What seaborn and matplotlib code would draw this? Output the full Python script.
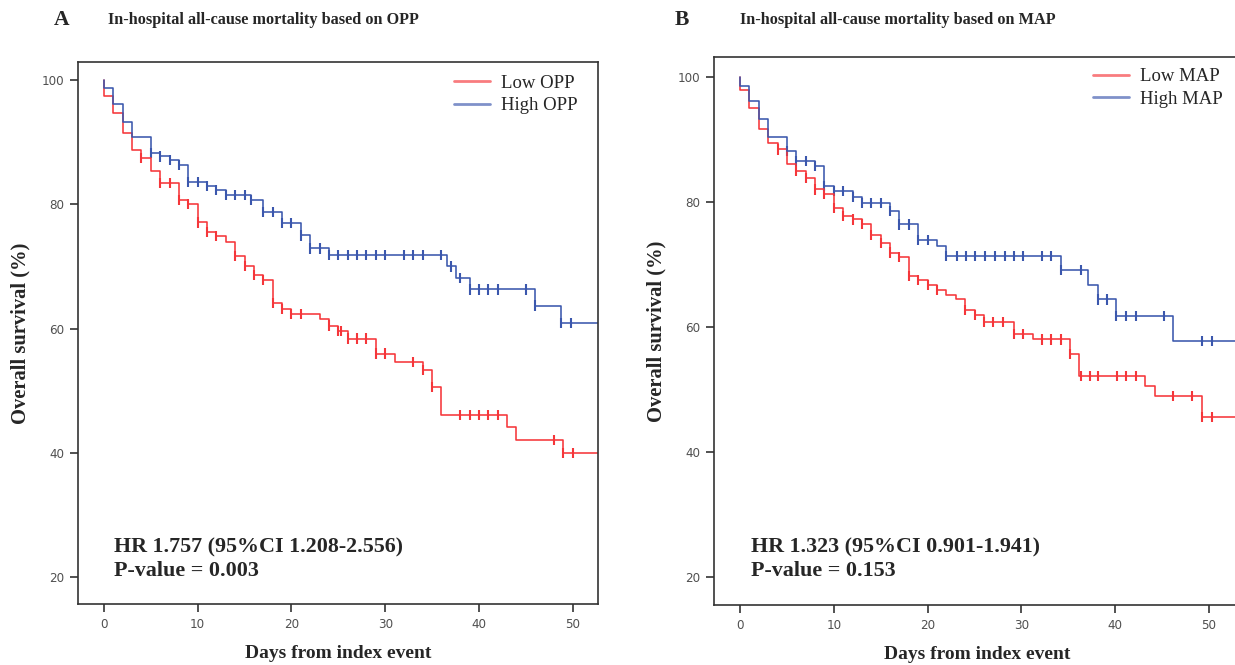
import numpy as np
import pandas as pd
import matplotlib
matplotlib.use("Agg")
import matplotlib.pyplot as plt
import seaborn as sns

# ---------------- data ----------------
# Panel A: OPP
a_titles = ["A", "In-hospital all-cause mortality based on OPP"]
a_labels = ["Low OPP", "High OPP"]
a_low_t = [0, 1, 2, 3, 4, 5, 6, 8, 9, 10, 11, 12, 13, 14, 15, 16, 17, 18, 19, 20,
           23, 24, 25, 26, 29, 31, 34, 35, 36, 43, 44, 49]
a_low_s = [97.4, 94.7, 91.4, 88.8, 87.4, 85.3, 83.4, 80.7, 80.0, 77.1, 75.6, 74.9, 74.0,
           71.7, 70.1, 68.6, 67.8, 64.1, 63.2, 62.4, 61.5, 60.5, 59.6, 58.4, 56.0, 54.6,
           53.3, 50.6, 46.1, 44.1, 42.1, 40.0]
a_low_c = [4, 6, 7, 8, 9, 10, 11, 12, 14, 15, 16, 17, 18, 19, 20, 21, 24, 25, 25.3, 26,
           27, 28, 29, 30, 33, 34, 35, 38, 39, 40, 41, 42, 48, 49, 50]
a_high_t = [0, 1, 2, 3, 5, 6, 7, 8, 9, 11, 12, 13, 15.7, 17, 19, 21, 22, 24, 36.6, 37.5,
            39, 46, 48.7]
a_high_s = [98.7, 96.2, 93.3, 90.8, 88.3, 87.7, 87.1, 86.3, 83.6, 82.9, 82.3, 81.5, 80.7,
            78.8, 77.0, 75.0, 72.9, 71.8, 70.0, 68.2, 66.3, 63.7, 60.9]
a_high_c = [5, 6, 7, 8, 9, 10, 11, 12, 13, 14, 15, 15.7, 17, 18, 19, 20, 21, 22, 23, 24,
            25, 26, 27, 28, 29, 30, 32, 33, 34, 36, 37, 38, 39, 40, 41, 42, 45, 46, 48.7, 49.8]
a_stats = ["HR 1.757 (95%CI 1.208-2.556)", "P-value = 0.003"]

# Panel B: MAP
b_titles = ["B", "In-hospital all-cause mortality based on MAP"]
b_labels = ["Low MAP", "High MAP"]
b_low_t = [0, 1, 2, 3, 4, 5, 6, 7, 8, 9, 10, 11, 12, 13, 14, 15, 16, 17, 18, 19, 20, 21,
           22, 23, 24, 25, 26, 29.2, 31.2, 35.2, 36.1, 43.2, 44.2, 49.2]
b_low_s = [97.9, 95.0, 91.6, 89.4, 88.4, 86.1, 84.9, 83.8, 82.0, 81.3, 79.0, 77.8, 77.2,
           76.5, 74.7, 73.4, 71.9, 71.2, 68.2, 67.5, 66.7, 65.9, 65.1, 64.4, 62.7, 61.9,
           60.8, 58.9, 58.0, 55.7, 52.1, 50.6, 49.0, 45.6]
b_low_c = [4, 6, 7, 8, 9, 10, 11, 12, 13, 14, 15, 16, 17, 18, 19, 20, 21, 24, 25, 26, 27,
           28, 29.2, 30.2, 32.2, 33.2, 34.2, 35.2, 36.3, 37.3, 38.2, 40.2, 41.1, 42.2, 46.2,
           48.2, 49.2, 50.3]
b_high_t = [0, 1, 2, 3, 5, 6, 8, 9, 10, 12, 13, 16, 17, 19, 21, 22, 34.2, 37.1, 38.2,
            40.1, 46.2]
b_high_s = [98.6, 96.2, 93.2, 90.4, 88.2, 86.6, 85.8, 82.6, 81.7, 80.8, 79.8, 78.6, 76.4,
            73.9, 72.9, 71.4, 69.1, 66.7, 64.4, 61.8, 57.8]
b_high_c = [5, 6, 7, 8, 9, 10, 11, 12, 13, 14, 15, 16, 17, 18, 19, 20, 22, 23.1, 24.1, 25.1,
            26.1, 27.2, 28.2, 29.2, 30.2, 32.2, 33.2, 34.2, 36.3, 38.2, 39.1, 40.1, 41.1, 42.2,
            45.2, 49.2, 50.3]
b_stats = ["HR 1.323 (95%CI 0.901-1.941)", "P-value = 0.153"]

follow_end = 60          # curves run on past the visible window
x_ticks = [0, 10, 20, 30, 40, 50]
y_ticks = [20, 40, 60, 80, 100]
x_label = "Days from index event"
y_label = "Overall survival (%)"

RED = "#f5363a"
BLUE = "#3b57ad"

# ---------------- helpers ----------------
def km_frame(times, surv, label):
    t = [0] + list(times) + [follow_end]
    s = [100] + list(surv) + [surv[-1]]
    return pd.DataFrame({"t": t, "s": s, "grp": label})


def censor_frame(times, surv, ctimes, label):
    et = np.asarray(times, float)
    es = np.asarray(surv, float)
    ct = np.asarray(ctimes, float)
    idx = np.searchsorted(et, ct + 1e-9, side="right") - 1
    y = np.where(idx >= 0, es[np.clip(idx, 0, None)], 100.0)
    return pd.DataFrame({"t": ct, "s": y, "grp": label})


sns.set_theme(style="white")
plt.rcParams["font.family"] = ["Liberation Serif", "DejaVu Serif"]

fig = plt.figure(figsize=(12.35, 6.65), dpi=100)

panels = [
    dict(rect=[0.06316, 0.09173, 0.42105, 0.81504], xlim=(-2.77, 52.7), ylim=(15.7, 102.9),
         labels=a_labels, low=(a_low_t, a_low_s, a_low_c), high=(a_high_t, a_high_s, a_high_c),
         stats=a_stats, titles=a_titles, letter_x=54, title_x=108, title_y=20,
         leg_anchor=(0.979, 0.994), right_spine=True, stat_x=114),
    dict(rect=[0.57814, 0.09023, 0.42591, 0.82406], xlim=(-2.77, 53.3), ylim=(15.5, 103.2),
         labels=b_labels, low=(b_low_t, b_low_s, b_low_c), high=(b_high_t, b_high_s, b_high_c),
         stats=b_stats, titles=b_titles, letter_x=675, title_x=740, title_y=20,
         leg_anchor=(0.985, 0.997), right_spine=False, stat_x=751),
]

W, H = 1235, 665
for p in panels:
    ax = fig.add_axes(p["rect"])
    lo_t, lo_s, lo_c = p["low"]
    hi_t, hi_s, hi_c = p["high"]
    lines = pd.concat([km_frame(lo_t, lo_s, p["labels"][0]),
                       km_frame(hi_t, hi_s, p["labels"][1])], ignore_index=True)
    cens = pd.concat([censor_frame(lo_t, lo_s, lo_c, p["labels"][0]),
                      censor_frame(hi_t, hi_s, hi_c, p["labels"][1])], ignore_index=True)
    pal = {p["labels"][0]: RED, p["labels"][1]: BLUE}
    sns.lineplot(data=lines, x="t", y="s", hue="grp", palette=pal, estimator=None,
                 sort=False, drawstyle="steps-post", linewidth=1.15, ax=ax)
    sns.scatterplot(data=cens, x="t", y="s", hue="grp", palette=pal, marker="|",
                    s=55, linewidth=1.5, legend=False, ax=ax)

    ax.set_xlim(*p["xlim"])
    ax.set_ylim(*p["ylim"])
    ax.set_xticks(x_ticks)
    ax.set_yticks(y_ticks)
    ax.set_xlabel(x_label, fontsize=14, fontweight="bold", labelpad=10)
    ax.set_ylabel(y_label, fontsize=14.8, fontweight="bold", labelpad=8)
    for lab in ax.get_xticklabels() + ax.get_yticklabels():
        lab.set_family(["DejaVu Sans"])
        lab.set_fontstretch("condensed")
        lab.set_fontsize(9.5)
        lab.set_color("#505050")
    ax.tick_params(direction="out", length=6, width=1.2, color="#333333",
                   bottom=True, left=True, pad=4)
    for name, sp in ax.spines.items():
        sp.set_color("#333333")
        sp.set_linewidth(1.2)
    ax.spines["right"].set_visible(p["right_spine"])

    handles, labs = ax.get_legend_handles_labels()
    leg = ax.legend(handles, labs, loc="upper right", bbox_to_anchor=p["leg_anchor"],
                    frameon=False, borderpad=0, fontsize=13.5, handlelength=1.9,
                    handletextpad=0.6, labelspacing=0.3)
    for h in leg.get_lines():
        h.set_linewidth(2.0)
        h.set_alpha(0.65)

    fig.text(p["letter_x"] / W, 1 - p["title_y"] / H, p["titles"][0], fontsize=15.5,
             fontweight="bold", va="center", ha="left")
    fig.text(p["title_x"] / W, 1 - p["title_y"] / H, p["titles"][1], fontsize=11.7,
             fontweight="bold", va="center", ha="left")
    fig.text(p["stat_x"] / W, 1 - 547 / H, p["stats"][0], fontsize=15.8,
             fontweight="bold", va="center", ha="left")
    fig.text(p["stat_x"] / W, 1 - 571 / H, p["stats"][1], fontsize=15.8,
             fontweight="bold", va="center", ha="left")

fig.savefig("out.png", dpi=100)
